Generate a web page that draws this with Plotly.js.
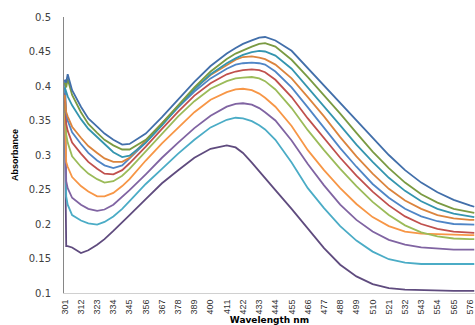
<!DOCTYPE html>
<html>
<head>
<meta charset="utf-8">
<script src="https://cdn.plot.ly/plotly-3.0.1.min.js"></script>
<style>html,body{margin:0;padding:0;background:#fff;}#chart{width:475px;height:325px;}</style>
</head>
<body>
<div id="chart"></div>
<script>
// Wavelength (nm) sample points
const wavelength = [301,302,303,306,312,317,323,328,334,340,345,356,367,378,389,400,411,417,422,428,433,437,444,455,466,477,488,499,510,521,532,543,554,565,576,579];

// Absorbance series (top to bottom at the peak)
const sDarkBlue = [0.409,0.405,0.417,0.394,0.370,0.353,0.341,0.331,0.322,0.315,0.316,0.331,0.355,0.381,0.406,0.429,0.447,0.455,0.461,0.466,0.470,0.471,0.466,0.451,0.426,0.401,0.376,0.350,0.325,0.300,0.278,0.260,0.246,0.235,0.227,0.225];
const sOlive    = [0.405,0.398,0.410,0.387,0.362,0.345,0.332,0.322,0.314,0.308,0.308,0.322,0.346,0.372,0.398,0.421,0.439,0.447,0.452,0.457,0.461,0.462,0.457,0.438,0.413,0.387,0.360,0.332,0.305,0.281,0.260,0.243,0.231,0.222,0.217,0.216];
const sTeal     = [0.398,0.390,0.385,0.372,0.352,0.338,0.326,0.315,0.304,0.297,0.299,0.318,0.343,0.370,0.395,0.417,0.433,0.440,0.445,0.449,0.451,0.450,0.444,0.425,0.398,0.371,0.343,0.315,0.290,0.267,0.248,0.233,0.222,0.215,0.211,0.210];
const sDarkOrange = [0.387,0.362,0.356,0.341,0.325,0.313,0.303,0.295,0.290,0.290,0.296,0.321,0.347,0.372,0.396,0.416,0.431,0.438,0.442,0.443,0.441,0.439,0.431,0.411,0.384,0.356,0.326,0.298,0.273,0.251,0.234,0.222,0.213,0.208,0.206,0.206];
const sBlue     = [0.409,0.360,0.350,0.333,0.316,0.303,0.292,0.285,0.281,0.285,0.295,0.318,0.344,0.369,0.392,0.411,0.425,0.431,0.433,0.434,0.433,0.431,0.421,0.398,0.369,0.340,0.310,0.283,0.258,0.238,0.222,0.211,0.204,0.200,0.199,0.199];
const sRed      = [0.390,0.345,0.335,0.318,0.302,0.290,0.280,0.273,0.272,0.278,0.288,0.312,0.338,0.363,0.386,0.404,0.417,0.421,0.423,0.424,0.423,0.420,0.409,0.384,0.353,0.324,0.296,0.270,0.247,0.227,0.211,0.200,0.193,0.189,0.187,0.187];
const sGreen    = [0.375,0.330,0.318,0.298,0.283,0.273,0.265,0.260,0.262,0.270,0.280,0.305,0.331,0.356,0.378,0.396,0.407,0.411,0.412,0.413,0.411,0.407,0.395,0.368,0.336,0.307,0.280,0.255,0.232,0.213,0.198,0.188,0.182,0.179,0.178,0.178];
const sOrange   = [0.361,0.290,0.283,0.268,0.255,0.247,0.240,0.240,0.245,0.255,0.265,0.292,0.317,0.340,0.362,0.380,0.391,0.395,0.396,0.394,0.389,0.383,0.370,0.342,0.307,0.278,0.252,0.229,0.210,0.197,0.189,0.186,0.185,0.184,0.184,0.184];
const sPurple   = [0.380,0.262,0.252,0.238,0.228,0.222,0.219,0.221,0.228,0.239,0.249,0.272,0.296,0.318,0.339,0.357,0.370,0.374,0.375,0.373,0.368,0.362,0.350,0.321,0.287,0.256,0.228,0.206,0.189,0.177,0.170,0.166,0.164,0.163,0.163,0.163];
const sAqua     = [0.397,0.240,0.228,0.213,0.205,0.201,0.199,0.203,0.211,0.222,0.233,0.258,0.280,0.302,0.322,0.340,0.351,0.354,0.353,0.349,0.343,0.337,0.322,0.289,0.252,0.223,0.197,0.176,0.160,0.149,0.144,0.142,0.142,0.142,0.142,0.142];
const sDarkPurple = [0.360,0.168,0.168,0.166,0.158,0.162,0.170,0.178,0.190,0.203,0.213,0.236,0.259,0.278,0.296,0.309,0.314,0.311,0.303,0.289,0.277,0.267,0.249,0.222,0.193,0.165,0.141,0.124,0.113,0.107,0.105,0.104,0.103,0.103,0.103,0.103];

const tickNm = [301,312,323,334,345,356,367,378,389,400,411,422,433,444,455,466,477,488,499,510,521,532,543,554,565,576];
const yTicks = [0.1,0.15,0.2,0.25,0.3,0.35,0.4,0.45,0.5];

const seriesList = [
  {y: sDarkPurple, color: '#5F4B7E'},
  {y: sAqua,       color: '#4BACC6'},
  {y: sPurple,     color: '#8064A2'},
  {y: sOrange,     color: '#F79646'},
  {y: sGreen,      color: '#9BBB59'},
  {y: sRed,        color: '#C0504D'},
  {y: sBlue,       color: '#4F85C6'},
  {y: sDarkOrange, color: '#DB843D'},
  {y: sTeal,       color: '#3495AF'},
  {y: sOlive,      color: '#7A9A42'},
  {y: sDarkBlue,   color: '#426FAA'}
];

const traces = seriesList.map(s => ({
  x: wavelength, y: s.y, type: 'scatter', mode: 'lines',
  line: {color: s.color, width: 1.8}, hoverinfo: 'skip', showlegend: false
}));

const layout = {
  width: 475, height: 325,
  margin: {l: 64, r: 0, t: 17, b: 32, pad: 0},
  paper_bgcolor: '#fff', plot_bgcolor: '#fff',
  showlegend: false,
  xaxis: {
    range: [300.5, 579.5], tickmode: 'array', tickvals: tickNm, ticktext: tickNm.map(String),
    tickangle: -90, tickfont: {family: 'Liberation Sans, Arial, sans-serif', size: 9, color: '#333'},
    showgrid: false, zeroline: false, showline: true, linecolor: '#d0d0d0', linewidth: 1,
    ticks: '', ticklabelstandoff: 2,
    title: {text: '<b>Wavelength nm</b>', font: {family: 'DejaVu Sans, sans-serif', size: 9, color: '#000'}, standoff: 2}
  },
  yaxis: {
    range: [0.1, 0.5], tickmode: 'array', tickvals: yTicks, ticktext: yTicks.map(String),
    tickfont: {family: 'DejaVu Sans, sans-serif', size: 10, color: '#404040'},
    showgrid: false, zeroline: false, showline: true, linecolor: '#868686', linewidth: 1,
    ticks: '', ticklabelstandoff: 10,
    title: {text: '<b>Absorbance</b>', font: {family: 'Liberation Sans Narrow, Liberation Sans, Arial, sans-serif', size: 9, color: '#000'}, standoff: 8}
  }
};

Plotly.newPlot('chart', traces, layout, {staticPlot: true, displayModeBar: false});
</script>
</body>
</html>
